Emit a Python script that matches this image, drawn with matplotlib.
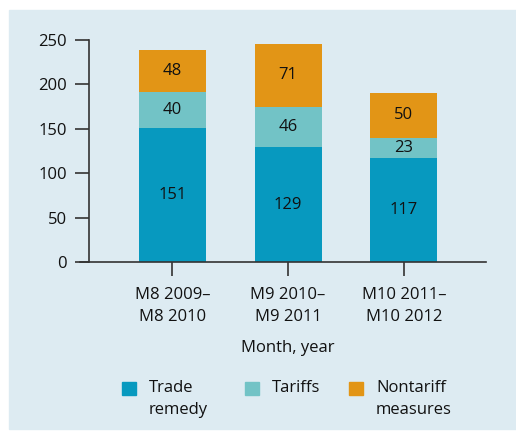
import matplotlib.pyplot as plt
from matplotlib.patches import Rectangle
import numpy as np

plt.rcParams['font.family'] = ['Open Sans', 'DejaVu Sans']

# periods and measure counts
periods = ['M8 2009–\nM8 2010', 'M9 2010–\nM9 2011', 'M10 2011–\nM10 2012']
trade_remedy = [151, 129, 117]
tariffs = [40, 46, 23]
nontariff = [48, 71, 50]

series = [('Trade\nremedy', trade_remedy, '#0799bf'),
          ('Tariffs', tariffs, '#72c3c6'),
          ('Nontariff\nmeasures', nontariff, '#e29516')]

bg = '#ddebf2'
W, H = 516, 432
fig = plt.figure(figsize=(W / 100, H / 100), dpi=100)
panel = Rectangle((9 / W, 3 / H), 1, 419 / H,
                  transform=fig.transFigure, color=bg, zorder=-10)
fig.add_artist(panel)

ax = fig.add_axes([89 / W, 1 - 262 / H, (486 - 89) / W, 222 / H])
ax.patch.set_alpha(0)

x = np.arange(len(periods))
bottom = np.zeros(len(periods))
for name, vals, col in series:
    vals = np.array(vals)
    ax.bar(x, vals, width=0.58, bottom=bottom, color=col)
    for xi, b, v in zip(x, bottom, vals):
        ax.text(xi, b + v / 2, str(v), ha='center', va='center', fontsize=12, color='#111111')
    bottom += vals

ax.set_xlim(-0.72, 2.71)
ax.set_ylim(0, 250)
ax.set_yticks([0, 50, 100, 150, 200, 250])
ax.set_xticks(x)
ax.set_xticklabels(periods, fontsize=12, linespacing=1.5, color='#111111')
ax.tick_params(axis='y', labelsize=12, labelcolor='#111111', length=10, width=1.2,
               color='#333333', pad=6)
ax.tick_params(axis='x', length=10, width=1.2, color='#333333', pad=8)
for s in ['top', 'right']:
    ax.spines[s].set_visible(False)
for s in ['left', 'bottom']:
    ax.spines[s].set_color('#333333')
    ax.spines[s].set_linewidth(1.2)
ax.spines['bottom'].set_bounds(-0.80, 2.71)
ax.spines['bottom'].set_clip_on(False)
ax.set_xlabel('Month, year', fontsize=12, labelpad=11, color='#111111')

# legend: square keys aligned with the first line of each label
key_x = [122, 245, 349]
for (name, vals, col), kx in zip(series, key_x):
    fig.add_artist(Rectangle((kx / W, 1 - 395 / H), 14 / W, 13 / H,
                             transform=fig.transFigure, color=col))
    fig.text((kx + 27) / W, 1 - 380 / H, name, fontsize=12, va='top', ha='left',
             linespacing=1.5, color='#111111')

fig.savefig('out.png', dpi=100)
